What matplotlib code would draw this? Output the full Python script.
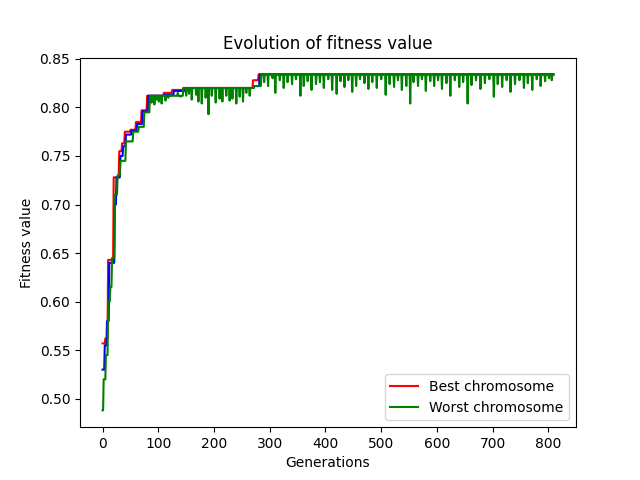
import numpy as np
import matplotlib
matplotlib.use("Agg")
import matplotlib.pyplot as plt

n_gen = 810
# step levels (start generation, value)
best_steps = [(0, 0.557), (5, 0.562), (10, 0.643), (20, 0.728), (30, 0.755), (35, 0.763),
              (40, 0.775), (50, 0.777), (60, 0.785), (70, 0.797), (80, 0.812), (110, 0.815),
              (125, 0.818), (145, 0.820), (270, 0.828), (280, 0.834)]
avg_steps = [(0, 0.53), (4, 0.555), (8, 0.58), (12, 0.64), (22, 0.70), (25, 0.728), (32, 0.75),
             (37, 0.76), (42, 0.772), (52, 0.776), (62, 0.783), (72, 0.796), (82, 0.812),
             (112, 0.813), (128, 0.817), (148, 0.820), (272, 0.822), (282, 0.834)]
worst_steps = [(0, 0.488), (2, 0.52), (6, 0.545), (10, 0.60), (14, 0.615), (17, 0.645),
               (22, 0.71), (27, 0.73), (32, 0.745), (42, 0.765), (55, 0.775), (65, 0.78),
               (75, 0.795), (85, 0.812), (145, 0.820), (272, 0.822), (285, 0.834)]
# single-generation drops of the worst chromosome
worst_dips = {88: 0.805, 93: 0.803, 97: 0.808, 101: 0.806, 106: 0.804, 113: 0.807, 118: 0.810,
              122: 0.813, 135: 0.815, 140: 0.811, 150: 0.812, 155: 0.814, 160: 0.808, 168: 0.813,
              172: 0.806, 178: 0.804, 185: 0.810, 190: 0.793, 196: 0.812, 203: 0.805, 210: 0.809,
              215: 0.806, 222: 0.812, 228: 0.807, 233: 0.809, 240: 0.804, 246: 0.811, 252: 0.806,
              258: 0.815, 264: 0.812, 290: 0.826, 297: 0.822, 305: 0.830, 310: 0.815, 318: 0.828,
              325: 0.820, 332: 0.826, 340: 0.824, 347: 0.829, 355: 0.812, 361: 0.822, 368: 0.827,
              375: 0.818, 383: 0.824, 390: 0.826, 397: 0.820, 405: 0.829, 412: 0.818, 420: 0.814,
              427: 0.827, 434: 0.821, 441: 0.828, 448: 0.816, 455: 0.822, 462: 0.829, 470: 0.825,
              477: 0.819, 484: 0.826, 492: 0.820, 500: 0.829, 508: 0.813, 515: 0.824, 523: 0.821,
              530: 0.828, 537: 0.818, 545: 0.822, 552: 0.804, 558: 0.826, 566: 0.822, 573: 0.829,
              580: 0.817, 588: 0.827, 595: 0.822, 602: 0.828, 609: 0.819, 617: 0.825, 624: 0.812,
              632: 0.828, 640: 0.821, 647: 0.826, 655: 0.804, 662: 0.823, 670: 0.828, 678: 0.819,
              686: 0.825, 694: 0.829, 702: 0.811, 709: 0.824, 717: 0.821, 725: 0.828, 732: 0.816,
              740: 0.824, 748: 0.828, 756: 0.820, 763: 0.825, 771: 0.818, 779: 0.829, 786: 0.822,
              794: 0.827, 801: 0.830, 806: 0.828}


def expand(steps):
    out = np.zeros(n_gen)
    for i, (g, v) in enumerate(steps):
        end = steps[i + 1][0] if i + 1 < len(steps) else n_gen
        out[g:end] = v
    return out


gens = np.arange(n_gen)
best = expand(best_steps)
avg = expand(avg_steps)
worst = expand(worst_steps)
for g, v in worst_dips.items():
    worst[g] = v

plt.figure(figsize=(6.4, 4.8), dpi=100)
plt.plot(gens, best, color="red", label="Best chromosome")
plt.plot(gens, avg, color="blue")
plt.plot(gens, worst, color="green", label="Worst chromosome")
plt.title("Evolution of fitness value")
plt.xlabel("Generations")
plt.ylabel("Fitness value")
plt.legend(loc="lower right")
plt.savefig("out.png")
